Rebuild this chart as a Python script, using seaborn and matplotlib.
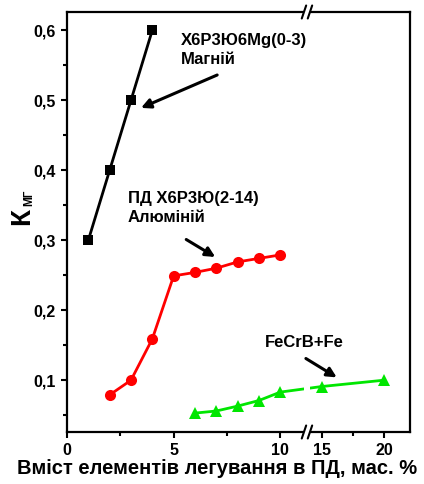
import numpy as np
import seaborn as sns
import matplotlib
matplotlib.use("Agg")
import matplotlib.pyplot as plt

# дані
mg_x = [1, 2, 3, 4]
mg_y = [0.30, 0.40, 0.50, 0.60]

al_x = [2, 3, 4, 5, 6, 7, 8, 9, 10]
al_y = [0.079, 0.10, 0.159, 0.249, 0.254, 0.26, 0.269, 0.274, 0.279]

fe_x = [6, 7, 8, 9, 10, 15, 20]
fe_y = [0.053, 0.056, 0.063, 0.071, 0.083, 0.091, 0.10]

x_ticks = [0, 5, 10, 15, 20]
x_minor = [2.5, 7.5, 17.5]
y_ticks = [0.1, 0.2, 0.3, 0.4, 0.5, 0.6]
y_labels = ["0,1", "0,2", "0,3", "0,4", "0,5", "0,6"]
y_minor = [0.05, 0.15, 0.25, 0.35, 0.45, 0.55]

sns.set_style("ticks")
plt.rcParams["font.family"] = ["Liberation Sans", "DejaVu Sans"]
plt.rcParams["font.weight"] = "bold"
for k in ("text.color", "axes.labelcolor", "xtick.color", "ytick.color",
          "axes.edgecolor"):
    plt.rcParams[k] = "black"

# розрив осі x між 11.25 і 13.8
A, B, R = 11.25, 13.8, 0.582


def fwd(x):
    x = np.asarray(x, dtype=float)
    return np.where(x <= A, x, np.where(x >= B, A + (x - B) * R, A))


def inv(u):
    u = np.asarray(u, dtype=float)
    return np.where(u <= A, u, B + (u - A) / R)


fig = plt.figure(figsize=(4.24, 4.84), dpi=100)
ax = fig.add_axes([67 / 424, 52 / 484, 343 / 424, 420 / 484])

sns.lineplot(x=mg_x, y=mg_y, color="black", marker="s", markersize=7,
             markeredgewidth=0, lw=2, ax=ax)
sns.lineplot(x=al_x, y=al_y, color="#ff0000", marker="o", markersize=8,
             markeredgewidth=0, lw=2, ax=ax)
sns.lineplot(x=fe_x, y=fe_y, color="#00e600", marker="^", markersize=8,
             markeredgewidth=0, lw=2, ax=ax)

ax.set_xscale("function", functions=(fwd, inv))
ax.set_xlim(0, 22.1)
ax.set_ylim(0.026, 0.626)

ax.set_xticks(x_ticks)
ax.set_xticks(x_minor, minor=True)
ax.set_xticklabels([str(t) for t in x_ticks])
ax.set_yticks(y_ticks)
ax.set_yticks(y_minor, minor=True)
ax.set_yticklabels(y_labels)

ax.tick_params(which="both", direction="out", width=1.5, labelsize=11.5,
               top=False, right=False, colors="black")
ax.tick_params(which="major", length=4, pad=4)
ax.tick_params(which="minor", length=3)
for s in ax.spines.values():
    s.set_linewidth(1.6)
    s.set_visible(True)
    s.set_color("black")

ax.set_xlabel("Вміст елементів легування в ПД, мас. %", fontsize=14.5,
              fontweight="bold")
ax.xaxis.set_label_coords((217.5 - 67) / 343, -0.064)
ax.set_ylabel("")
fig.text(22 / 424, 1 - 216 / 484, "К", rotation=90, ha="center", va="center",
         fontsize=20, fontweight="bold")
fig.text(29 / 424, 1 - 198 / 484, "МГ", rotation=90, ha="center",
         va="center", fontsize=8.5, fontweight="bold")

# розрив: біла смуга і позначки //
ax.axvspan(A - 0.15, B + 0.25, ymin=-0.02, ymax=1.02, color="white",
           zorder=5, clip_on=False, lw=0)
f = A / float(fwd(22.1))
dx = 2.2 / 343
dy = 6.5 / 420
for yy in (0, 1):
    for off in (-3 / 343, 3 / 343):
        ax.plot([f + off - dx, f + off + dx], [yy - dy, yy + dy],
                transform=ax.transAxes, color="black", lw=1.5,
                clip_on=False, zorder=6)

arrow = dict(arrowstyle="-|>", color="black", lw=2.2, mutation_scale=14,
             shrinkA=0, shrinkB=0)
ax.annotate("", xy=(3.47, 0.489), xytext=(7.04, 0.536), arrowprops=arrow,
            zorder=8)
ax.annotate("", xy=(6.95, 0.276), xytext=(5.59, 0.301), arrowprops=arrow,
            zorder=8)
ax.annotate("", xy=(16.2, 0.104), xytext=(11.2, 0.131), arrowprops=arrow,
            zorder=8)

ax.text(5.35, 0.596, "Х6Р3Ю6Mg(0-3)\nМагній", ha="left", va="top",
        fontsize=12, fontweight="bold", linespacing=1.3, zorder=8)
ax.text(2.86, 0.370, "ПД Х6Р3Ю(2-14)\nАлюміній", ha="left", va="top",
        fontsize=12, fontweight="bold", linespacing=1.3, zorder=8)
ax.text(9.30, 0.164, "FeCrB+Fe", ha="left", va="top",
        fontsize=12, fontweight="bold", zorder=8)

fig.savefig("out.png", dpi=100)
